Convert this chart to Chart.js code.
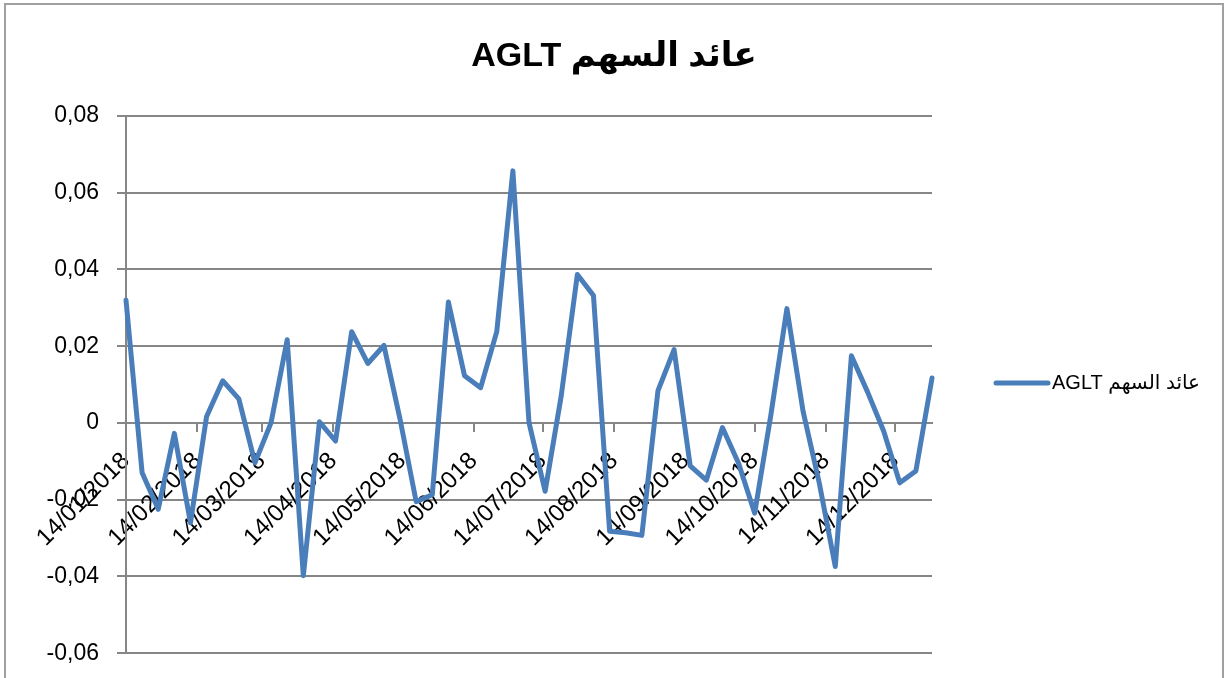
<!DOCTYPE html>
<html>
<head>
<meta charset="utf-8">
<script src="https://cdn.jsdelivr.net/npm/chart.js@4.4.1/dist/chart.umd.min.js"></script>
<style>
  html, body { margin: 0; background: #fff; overflow: hidden; }
  canvas { display: block; }
</style>
</head>
<body>
<!-- a little taller than the window: the original chart is cut off at the bottom -->
<canvas id="returnChart" width="1226" height="685"></canvas>
<script>
// weekly observations
const weekDates = [
  '14/01/2018', '21/01/2018', '28/01/2018', '04/02/2018', '11/02/2018', '18/02/2018', '25/02/2018',
  '04/03/2018', '11/03/2018', '18/03/2018', '25/03/2018', '01/04/2018', '08/04/2018', '15/04/2018',
  '22/04/2018', '29/04/2018', '06/05/2018', '13/05/2018', '20/05/2018', '27/05/2018', '03/06/2018',
  '10/06/2018', '17/06/2018', '24/06/2018', '01/07/2018', '08/07/2018', '15/07/2018', '22/07/2018',
  '29/07/2018', '05/08/2018', '12/08/2018', '19/08/2018', '26/08/2018', '02/09/2018', '09/09/2018',
  '16/09/2018', '23/09/2018', '30/09/2018', '07/10/2018', '14/10/2018', '21/10/2018', '28/10/2018',
  '04/11/2018', '11/11/2018', '18/11/2018', '25/11/2018', '02/12/2018', '09/12/2018', '16/12/2018',
  '23/12/2018', '30/12/2018'
];
const returnsAGLT = [
  0.032, -0.013, -0.0225, -0.0027, -0.026, 0.0017, 0.011,
  0.0063, -0.0104, 0.0001, 0.0217, -0.0398, 0.0003, -0.0047,
  0.0238, 0.0155, 0.0202, 0.001, -0.0205, -0.0187, 0.0315,
  0.0123, 0.0092, 0.0238, 0.0657, 0.0001, -0.0178, 0.0071,
  0.0387, 0.0332, -0.0282, -0.0286, -0.0293, 0.0084, 0.0191,
  -0.0112, -0.0149, -0.0012, -0.0105, -0.0235, 0.002, 0.0298,
  0.0031, -0.0155, -0.0374, 0.0175, 0.0081, -0.0021, -0.0156,
  -0.0125, 0.0117
];
const monthTicks = [
  '14/01/2018', '14/02/2018', '14/03/2018', '14/04/2018', '14/05/2018', '14/06/2018',
  '14/07/2018', '14/08/2018', '14/09/2018', '14/10/2018', '14/11/2018', '14/12/2018'
];
const seriesName = 'عائد السهم AGLT';
const chartTitle = 'عائد السهم AGLT';

const lineColor = '#4a7ebb';
const gridColor = '#868686';

// days since the first date
function dayOffset(str) {
  const [d, m, y] = str.split('/').map(Number);
  const [d0, m0, y0] = weekDates[0].split('/').map(Number);
  return Math.round((Date.UTC(y, m - 1, d) - Date.UTC(y0, m0 - 1, d0)) / 86400000);
}

const tickDays = monthTicks.map(dayOffset);
const points = weekDates.map((d, i) => ({ x: dayOffset(d), y: returnsAGLT[i] }));

// frame, title and legend like the spreadsheet chart
const decorations = {
  id: 'decorations',
  beforeDraw(chart) {
    const ctx = chart.ctx;
    ctx.save();
    ctx.strokeStyle = '#a0a0a0';
    ctx.lineWidth = 2;
    ctx.strokeRect(5, 4, 1218, 720);
    ctx.restore();
  },
  afterDraw(chart) {
    const ctx = chart.ctx;
    ctx.save();
    ctx.direction = 'rtl';
    ctx.fillStyle = '#000';
    ctx.textAlign = 'center';
    ctx.textBaseline = 'alphabetic';
    ctx.font = 'bold 34px "Liberation Sans", "DejaVu Sans", sans-serif';
    ctx.fillText(chartTitle, 614, 66);

    // legend
    ctx.strokeStyle = lineColor;
    ctx.lineWidth = 5;
    ctx.lineCap = 'round';
    ctx.beginPath();
    ctx.moveTo(996, 383);
    ctx.lineTo(1048, 383);
    ctx.stroke();
    ctx.font = '20px "Liberation Sans", "DejaVu Sans", sans-serif';
    ctx.textAlign = 'right';
    ctx.textBaseline = 'middle';
    ctx.fillText(seriesName, 1200, 383);
    ctx.restore();
  }
};

const ctx = document.getElementById('returnChart').getContext('2d');
new Chart(ctx, {
  type: 'line',
  data: {
    datasets: [{
      label: seriesName,
      data: points,
      borderColor: lineColor,
      backgroundColor: lineColor,
      borderWidth: 5,
      borderJoinStyle: 'round',
      borderCapStyle: 'round',
      pointRadius: 0,
      tension: 0,
      clip: 10
    }]
  },
  options: {
    responsive: false,
    animation: false,
    layout: {
      padding: { top: 116, right: 294, bottom: 19, left: 0 }
    },
    scales: {
      x: {
        type: 'linear',
        position: { y: 0 },
        min: 0,
        max: 350,
        afterBuildTicks: (scale) => {
          scale.ticks = tickDays.map(v => ({ value: v }));
        },
        ticks: {
          autoSkip: false,
          minRotation: 45,
          maxRotation: 45,
          padding: 16,
          color: '#000',
          font: { family: '"Liberation Sans", sans-serif', size: 24 },
          callback: (value, index) => monthTicks[index]
        },
        grid: {
          drawOnChartArea: false,
          drawTicks: true,
          tickLength: 8,
          color: gridColor,
          lineWidth: 2
        },
        border: { color: gridColor, width: 2 }
      },
      y: {
        min: -0.06,
        max: 0.08,
        afterFit: (scale) => { scale.width = 126; },
        ticks: {
          stepSize: 0.02,
          padding: 18,
          color: '#000',
          font: { family: '"Liberation Sans", sans-serif', size: 23 },
          callback: (v) => Math.abs(v) < 1e-9 ? '0' : v.toFixed(2).replace('.', ',')
        },
        grid: {
          color: gridColor,
          lineWidth: 2,
          tickLength: 9
        },
        border: { color: gridColor, width: 2 }
      }
    },
    plugins: {
      legend: { display: false },
      title: { display: false },
      tooltip: { enabled: false }
    }
  },
  plugins: [decorations]
});
</script>
</body>
</html>
